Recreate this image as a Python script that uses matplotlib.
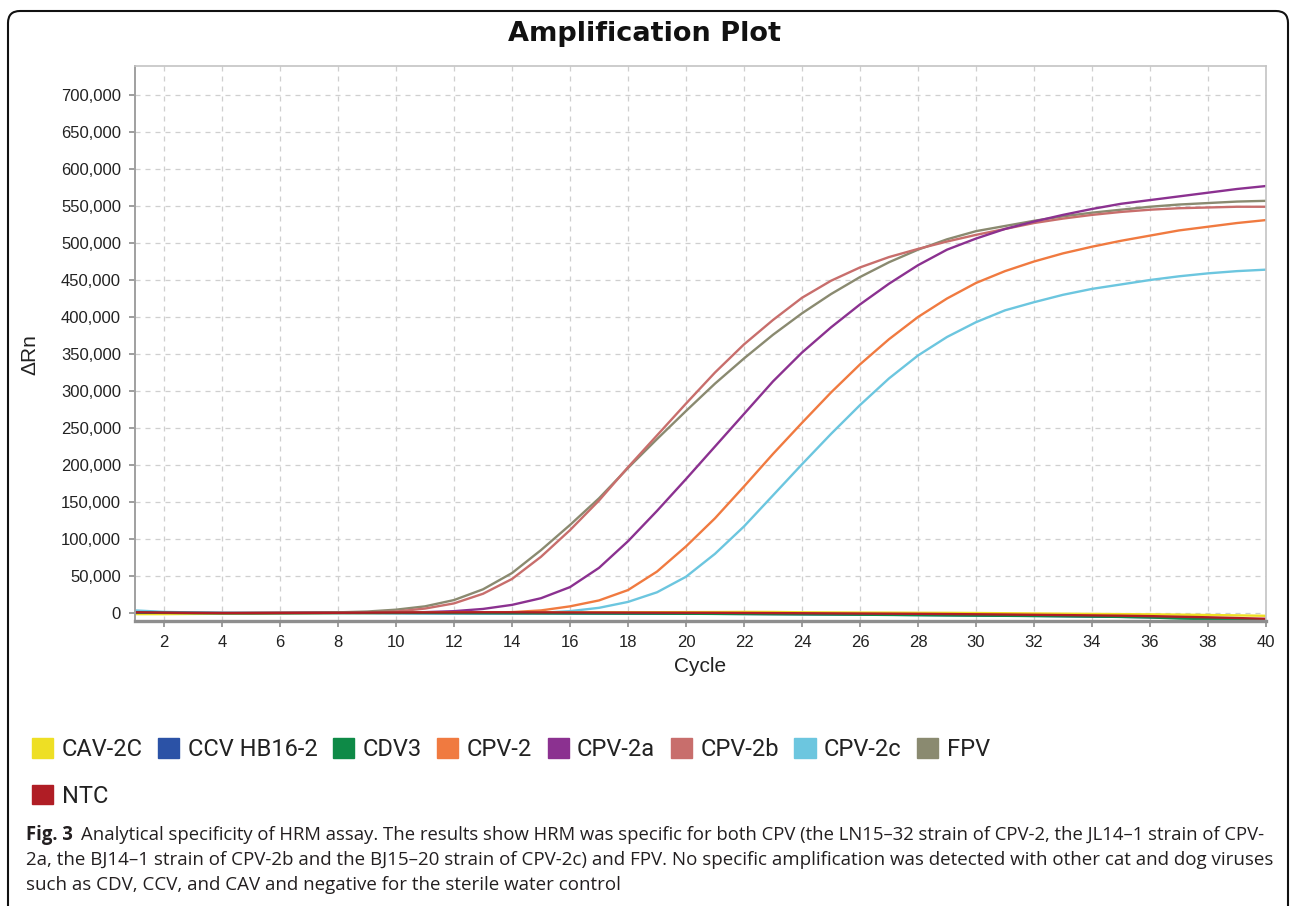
import matplotlib
matplotlib.use("Agg")
import matplotlib.pyplot as plt
import matplotlib.patches as mpatches
from matplotlib.transforms import IdentityTransform
from matplotlib.ticker import FuncFormatter, MultipleLocator

# ---- data ----
cycles = list(range(1, 41))

cav_2c = [-1500, -1500, -1200, -1000, -800, -500, -300, 0, 0, 200, 300, 400, 500, 600, 700, 800,
          900, 1000, 1100, 1200, 1300, 1500, 1400, 1000, 800, 600, 500, 300, 200, 0, -300, -600,
          -900, -1200, -1500, -1800, -2200, -2700, -3200, -3800]
ccv_hb16 = [500, 200, 0, -200, -200, -200, -100, 0, 0, 0, -100, -200, -300, -400, -500, -600,
            -700, -800, -900, -1000, -1100, -1300, -1500, -1700, -1900, -2100, -2400, -2700, -3000,
            -3300, -3600, -3900, -4300, -4700, -5200, -5800, -6500, -7200, -8000, -8800]
cdv3 = [800, 300, 0, -200, -300, -200, -100, 0, 0, 0, 0, -100, -200, -300, -400, -500, -600, -700,
        -800, -1000, -1200, -1400, -1600, -1800, -2000, -2300, -2600, -2900, -3200, -3500, -3800,
        -4100, -4400, -4800, -5300, -6000, -7500, -8200, -8500, -8700]
cpv_2 = [500, 0, -500, -300, 0, 200, 300, 300, 400, 500, 600, 700, 800, 1200, 3500, 9000, 17000,
         31000, 56000, 90000, 128000, 171000, 215000, 257000, 298000, 336000, 370000, 400000,
         425000, 446000, 462000, 475000, 486000, 495000, 503000, 510000, 517000, 522000, 527000,
         531000]
cpv_2a = [1500, 500, 0, 0, 0, 200, 300, 400, 500, 700, 1200, 2500, 5500, 11000, 20000, 35000,
          61000, 97000, 138000, 181000, 225000, 269000, 313000, 352000, 386000, 417000, 445000,
          470000, 491000, 506000, 519000, 529000, 538000, 546000, 553000, 558000, 563000, 568000,
          573000, 577000]
cpv_2b = [1500, 500, -1000, -500, 0, 300, 800, 600, 900, 2000, 6000, 13000, 26000, 46000, 76000,
          112000, 152000, 197000, 240000, 283000, 325000, 363000, 396000, 426000, 449000, 467000,
          481000, 492000, 502000, 511000, 519000, 527000, 533000, 538000, 542000, 545000, 547000,
          548000, 549000, 549000]
cpv_2c = [3500, 1500, 800, 300, 200, 200, 100, 0, 0, -300, -500, -500, -500, -300, 300, 2500, 7000,
          15000, 28000, 49000, 80000, 117000, 159000, 201000, 242000, 281000, 317000, 348000,
          373000, 393000, 409000, 420000, 430000, 438000, 444000, 450000, 455000, 459000, 462000,
          464000]
fpv = [2000, 800, 300, 200, 300, 400, 600, 900, 2000, 4500, 9000, 17500, 32000, 54000, 85000,
       119000, 155000, 196000, 235000, 273000, 310000, 344000, 376000, 405000, 431000, 454000,
       474000, 491000, 505000, 516000, 523000, 530000, 536000, 541000, 545000, 549000, 552000,
       554000, 556000, 557000]
ntc = [1000, 500, 200, 0, 0, 100, 200, 300, 500, 700, 800, 900, 1000, 1000, 900, 800, 700, 600,
       500, 400, 300, 100, -100, -300, -500, -700, -900, -1100, -1400, -1700, -2000, -2400, -2800,
       -3200, -3600, -4200, -5000, -5800, -6800, -7800]

labels = ["CAV-2C", "CCV HB16-2", "CDV3", "CPV-2", "CPV-2a", "CPV-2b", "CPV-2c", "FPV", "NTC"]
series = [cav_2c, ccv_hb16, cdv3, cpv_2, cpv_2a, cpv_2b, cpv_2c, fpv, ntc]
colors = ["#EEDF24", "#2B52A6", "#0E8A47", "#F07A40", "#8B3190", "#C86E6C", "#6CC6DF",
          "#8A8A70", "#B01D25"]

caption_bold = "Fig. 3"
caption_lines = [
    "Analytical specificity of HRM assay. The results show HRM was specific for both CPV (the LN15\u201332 strain of CPV-2, the JL14\u20131 strain of CPV-",
    "2a, the BJ14\u20131 strain of CPV-2b and the BJ15\u201320 strain of CPV-2c) and FPV. No specific amplification was detected with other cat and dog viruses",
    "such as CDV, CCV, and CAV and negative for the sterile water control",
]

W, H = 1290, 906
fig = plt.figure(figsize=(W / 100, H / 100), dpi=100)

# outer panel border (bottom edge runs off the canvas, like the reference crop)
border = mpatches.FancyBboxPatch((8, -20), 1280, 915, boxstyle="round,pad=0,rounding_size=12",
                                 transform=IdentityTransform(), facecolor="none",
                                 edgecolor="#111111", linewidth=1.5)
fig.add_artist(border)

ax = fig.add_axes([135 / W, 1 - 621 / H, (1266 - 135) / W, (621 - 66) / H])

# rising curves first, flat ones on top
order = [7, 5, 4, 3, 6, 0, 1, 2, 8]
for i in order:
    ax.plot(cycles, series[i], color=colors[i], lw=1.7, solid_joinstyle="round")

ax.set_xlim(1, 40)
ax.set_ylim(-10800, 739200)
ax.xaxis.set_major_locator(MultipleLocator(2))
ax.set_yticks(list(range(0, 700001, 50000)))
ax.yaxis.set_major_formatter(FuncFormatter(lambda v, p: f"{int(v):,}"))

ax.grid(True, color="#CFCFCF", lw=0.9, linestyle=(0, (4, 4)))
ax.set_axisbelow(True)

for side in ["top", "right"]:
    ax.spines[side].set_color("#C4C4C4")
    ax.spines[side].set_linewidth(1.2)
ax.spines["left"].set_color("#A0A0A0")
ax.spines["left"].set_linewidth(1.4)
ax.spines["bottom"].set_color("#8E8E8E")
ax.spines["bottom"].set_linewidth(2.4)

ax.tick_params(axis="both", direction="out", length=4, width=1.2, color="#8E8E8E",
               labelcolor="#222222", pad=6)
for lab in ax.get_xticklabels() + ax.get_yticklabels():
    lab.set_fontfamily(["Liberation Sans", "DejaVu Sans"])
    lab.set_fontsize(12)

ax.set_xlabel("Cycle", fontsize=15, family=["Liberation Sans", "DejaVu Sans"], color="#222222")
ax.xaxis.label.set_va("center")
ax.xaxis.set_label_coords(0.5, -(667 - 621) / 555)
ax.set_ylabel("\u0394Rn", fontsize=15, family=["Liberation Sans", "DejaVu Sans"], color="#222222")
ax.yaxis.label.set_va("center")
ax.yaxis.set_label_coords(-(135 - 30) / 1131, 0.48)

fig.text(0.4995, 1 - 34 / H, "Amplification Plot", ha="center", va="center", fontsize=19.5,
         fontweight="bold", family="DejaVu Sans", color="#111111")

# legend: column-major fill, so NTC goes second to land alone on row two
handles = [mpatches.Patch(facecolor=c, edgecolor=c) for c in colors]
leg_order = [0, 8, 1, 2, 3, 4, 5, 6, 7]
fig.legend([handles[i] for i in leg_order], [labels[i] for i in leg_order], ncol=8,
           loc="upper left", bbox_to_anchor=(32 / W, 1 - 738 / H), frameon=False,
           prop={"family": ["Roboto", "DejaVu Sans"], "size": 17},
           handlelength=0.9, handleheight=0.9, handletextpad=0.35, columnspacing=0.66,
           labelspacing=1.0, borderpad=0, borderaxespad=0, labelcolor="#222222")

# caption: each line sized to end where it ends in the reference
renderer = fig.canvas.get_renderer()
cap_family = ["Open Sans", "DejaVu Sans"]
x0 = 26
line_y = [835, 860, 885]
line_end = [1267, 1273]


def text_width(s, size, weight="normal"):
    t = fig.text(0, 0, s, fontsize=size, family=cap_family, fontweight=weight)
    w = t.get_window_extent(renderer).width
    t.remove()
    return w


# line 1 = bold lead + regular text
w_bold = text_width(caption_bold, 12, "bold")
w_rest = text_width(caption_lines[0], 12)
gap = 8
size1 = 12 * (line_end[0] - x0 - gap) / (w_bold + w_rest) * 0.995
size2 = 12 * (line_end[1] - x0) / text_width(caption_lines[1], 12) * 0.995

b = fig.text(x0 / W, 1 - line_y[0] / H, caption_bold, fontsize=size1, family=cap_family,
             fontweight="bold", va="center", color="#231F20")
bw = b.get_window_extent(renderer).width
fig.text((x0 + bw + gap) / W, 1 - line_y[0] / H, caption_lines[0], fontsize=size1,
         family=cap_family, va="center", color="#231F20")
for txt, yy in zip(caption_lines[1:], line_y[1:]):
    fig.text(x0 / W, 1 - yy / H, txt, fontsize=size2, family=cap_family, va="center",
             color="#231F20")

fig.savefig("out.png", dpi=100)
